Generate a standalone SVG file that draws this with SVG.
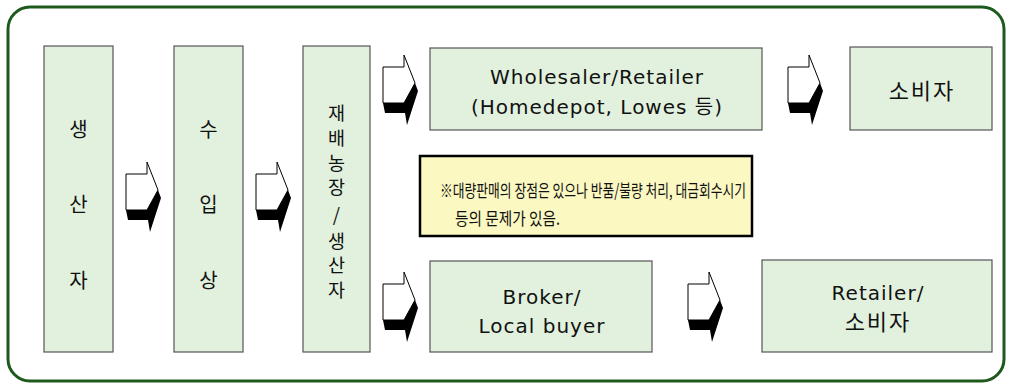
<svg xmlns="http://www.w3.org/2000/svg" width="1010" height="387" viewBox="0 0 1010 387">
<style>
.box{fill:#E2F1DE;stroke:#555;stroke-width:1.2}
.t{font-family:"DejaVu Sans","Noto Sans CJK KR",sans-serif;font-size:20px;letter-spacing:1px;fill:#111;text-anchor:middle}
.k{font-family:"Noto Sans CJK KR",sans-serif;font-size:20px;fill:#111;text-anchor:middle}
.v{font-family:"Noto Sans CJK KR",sans-serif;font-size:18.5px;fill:#111;text-anchor:middle}
.w{font-family:"Noto Sans CJK KR",sans-serif;font-size:22px;letter-spacing:2px;fill:#111;text-anchor:middle}
.n{font-family:"Noto Sans CJK KR",sans-serif;font-size:17.5px;fill:#111}
</style>
<defs>
<g id="arr">
<path d="M0,12 H21 V0 L32,28 L21,48 H0 Z" fill="#fff" stroke="#000" stroke-width="1"/>
<path d="M0,48 H21 L32,28 L35,36 L24,70 L22,58 H2 Z" fill="#000"/>
</g>
</defs>
<rect x="8" y="7" width="996" height="374" rx="22" fill="#fff" stroke="#1E5A1E" stroke-width="3"/>
<g id="n1"><rect class="box" x="44" y="46" width="69" height="306"/>
<text class="k" x="78.5" y="137">생</text><text class="k" x="78.5" y="212">산</text><text class="k" x="78.5" y="288">자</text></g>
<g id="n2"><rect class="box" x="174" y="46" width="69" height="306"/>
<text class="k" x="208.5" y="137">수</text><text class="k" x="208.5" y="212">입</text><text class="k" x="208.5" y="288">상</text></g>
<g id="n3"><rect class="box" x="303" y="46" width="67" height="306"/>
<text class="v"><tspan x="336.5" y="120">재</tspan><tspan x="336.5" y="145">배</tspan><tspan x="336.5" y="170">농</tspan><tspan x="336.5" y="194">장</tspan><tspan x="336.5" y="222">/</tspan><tspan x="336.5" y="248">생</tspan><tspan x="336.5" y="272">산</tspan><tspan x="336.5" y="297">자</tspan></text></g>
<g id="n4"><rect class="box" x="430" y="48" width="332" height="82"/>
<text class="t" x="597" y="84">Wholesaler/Retailer</text><text class="t" x="597" y="114">(Homedepot, Lowes 등)</text></g>
<g id="n5"><rect class="box" x="850" y="47" width="142" height="83"/>
<text class="w" x="922" y="99">소비자</text></g>
<g id="n6"><rect class="box" x="430" y="261" width="222" height="91"/>
<text class="t" x="542" y="304">Broker/</text><text class="t" x="542" y="333">Local buyer</text></g>
<g id="n7"><rect class="box" x="762" y="260" width="230" height="92"/>
<text class="t" x="878" y="300">Retailer/</text><text class="w" x="878" y="330">소비자</text></g>
<g id="note"><rect x="420" y="156" width="332" height="80" fill="#FBF8C2" stroke="#000" stroke-width="2.5"/>
<text class="n" x="440" y="197" textLength="306" lengthAdjust="spacingAndGlyphs">※대량판매의 장점은 있으나 반품/불량 처리, 대금회수시기</text>
<text class="n" x="455" y="225" textLength="105" lengthAdjust="spacingAndGlyphs">등의 문제가 있음.</text></g>
<g id="connectors">
<use href="#arr" x="126" y="162"/>
<use href="#arr" x="256" y="162"/>
<use href="#arr" x="383" y="55"/>
<use href="#arr" x="788" y="55"/>
<use href="#arr" x="383" y="272"/>
<use href="#arr" x="688" y="272"/>
</g>
</svg>
